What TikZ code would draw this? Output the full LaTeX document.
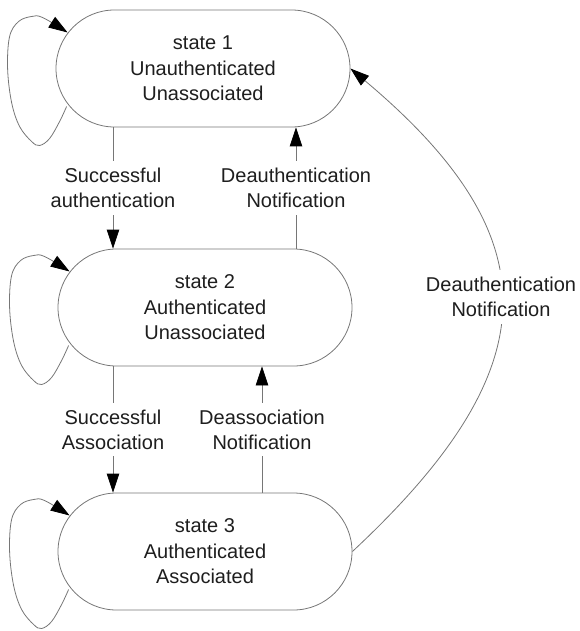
\documentclass[tikz,border=0pt]{standalone}
\usepackage{fontspec}
\setmainfont{Liberation Sans}
\usetikzlibrary{shapes.misc,arrows.meta,calc}
\definecolor{edgegray}{HTML}{767676}
\definecolor{inkgray}{HTML}{1E1E1E}
\begin{document}
\begin{tikzpicture}[x=1pt,y=1pt,
  every node/.style={font=\fontsize{20}{25.5}\selectfont, text=inkgray, align=center},
  statebox/.style={rounded rectangle, draw=edgegray, line width=0.8pt,
    minimum width=294pt, minimum height=117pt, inner sep=0pt},
  edgelabel/.style={fill=white, inner xsep=2pt, inner ysep=7pt,
    font=\fontsize{20}{25}\selectfont},
  conn/.style={draw=edgegray, line width=0.8pt},
  arrowed/.style={conn, -{Triangle[length=19pt,width=12.5pt,fill=black,color=black]}}
]
\useasboundingbox (0,0) rectangle (579,-631);

% the three states
\node[statebox] (s1) at (203,-68.5) {state 1\\Unauthenticated\\Unassociated};
\node[statebox] (s2) at (205,-307.5) {state 2\\Authenticated\\Unassociated};
\node[statebox] (s3) at (205,-551.5) {state 3\\Authenticated\\Associated};

% x positions of the vertical transitions
\coordinate (xa) at (113,0);
\coordinate (xb) at (296,0);
\coordinate (xd) at (262,0);

% transitions between neighbouring states
\draw[arrowed] (s1.south -| xa) -- (s2.north -| xa)
  node[edgelabel, midway] (la1) {Successful\\authentication};
\draw[arrowed] (s2.north -| xb) -- (s1.south -| xb)
  node[edgelabel, midway] (la2) {Deauthentication\\Notification};
\draw[arrowed] (s2.south -| xa) -- (s3.north -| xa)
  node[edgelabel, midway] (la3) {Successful\\Association};
\draw[arrowed] (s3.north -| xd) -- (s2.south -| xd)
  node[edgelabel, midway] (la4) {Deassociation\\Notification};

% long transition from state 3 back to state 1
\draw[arrowed] (s3.east) to[out=43, in=-40, looseness=1.41] (s1.east);
\node[edgelabel] (la5) at (501,-297) {Deauthentication\\Notification};

% self loops on the left of each state, drawn relative to its west point
\foreach \s in {s1,s2,s3}{
  \begin{scope}[shift={(\s.west)}]
    \draw[arrowed] plot[smooth, tension=0.6] coordinates {
      (11,-38) (4,-53) (-6,-70) (-16,-77) (-24,-73) (-36,-58) (-44,-34)
      (-48,0) (-46,32) (-37,47) (-24,52) (-13,51) (12,36)};
  \end{scope}
}
\end{tikzpicture}
\end{document}
